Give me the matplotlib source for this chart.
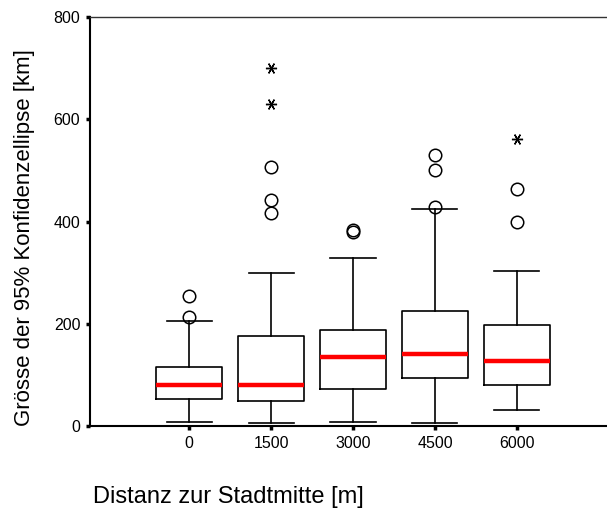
import matplotlib.pyplot as plt

plt.rcParams['font.family'] = ['Liberation Sans', 'DejaVu Sans']

# Distanz-Kategorien
categories = ['0', '1500', '3000', '4500', '6000']

# Boxplot-Kennwerte
whisker_low = [7, 5, 7, 5, 32]
q1 = [52, 48, 73, 93, 80]
median = [81, 81, 135, 141, 127]
q3 = [116, 176, 187, 225, 198]
whisker_high = [206, 299, 329, 424, 304]

# Ausreisser (Kreise) und Extremwerte (Sterne)
outliers = [[214, 254], [416, 443, 506], [380, 384], [429, 500, 531], [400, 464]]
extremes = [[], [630, 701], [], [], [561]]

stats = []
for i, name in enumerate(categories):
    stats.append({'label': name, 'whislo': whisker_low[i], 'q1': q1[i], 'med': median[i],
                  'q3': q3[i], 'whishi': whisker_high[i], 'fliers': outliers[i]})

fig = plt.figure(figsize=(6.07, 5.12), dpi=100)
ax = fig.add_axes([90 / 607, 86 / 512, 517 / 607, 409 / 512])

positions = list(range(1, len(categories) + 1))
ax.bxp(stats, positions=positions, widths=0.8, capwidths=0.55,
       boxprops=dict(color='black', linewidth=1.2),
       whiskerprops=dict(color='black', linewidth=1.2),
       capprops=dict(color='black', linewidth=1.2),
       medianprops=dict(color='#ff0000', linewidth=3.2),
       flierprops=dict(marker='o', markerfacecolor='none', markeredgecolor='black',
                       markersize=9, markeredgewidth=1.1))

for p, ext in zip(positions, extremes):
    if ext:
        ax.plot([p] * len(ext), ext, linestyle='none', marker=(6, 2, 90),
                markersize=8, color='black', markeredgewidth=1.0)

ax.set_ylim(0, 800)
ax.set_xlim(-0.21, 6.1)
ax.set_yticks([0, 200, 400, 600, 800])
ax.set_xticks(positions)
ax.set_xticklabels(categories)
ax.tick_params(axis='both', direction='out', length=3, width=2.5, labelsize=11.5, pad=4)

ax.spines['right'].set_visible(False)
ax.spines['top'].set_linewidth(1.0)
ax.spines['top'].set_color('#333333')
ax.spines['left'].set_linewidth(1.5)
ax.spines['bottom'].set_linewidth(1.5)

fig.text(25 / 607, 1 - 238 / 512, 'Grösse der 95% Konfidenzellipse [km]', fontsize=16,
         rotation=90, ha='center', va='center')
fig.text(93 / 607, 1 - 497 / 512, 'Distanz zur Stadtmitte [m]', fontsize=17,
         ha='left', va='center')

fig.savefig('out.png', dpi=100)
